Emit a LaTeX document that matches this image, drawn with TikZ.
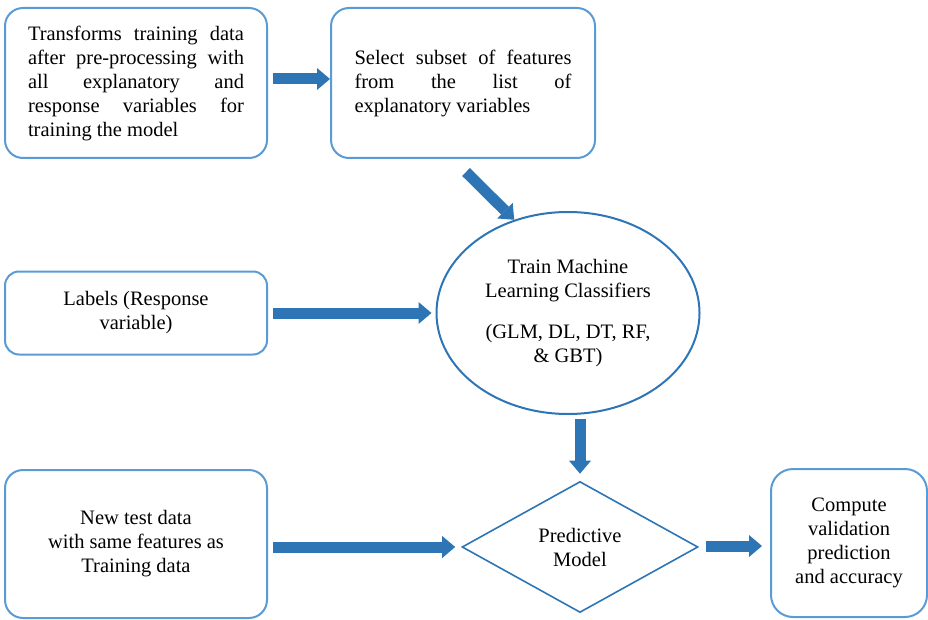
\documentclass[tikz,border=0pt]{standalone}
\usepackage{fontspec}
\setmainfont{Liberation Serif}
\usetikzlibrary{arrows.meta,shapes.geometric}
\definecolor{boxblue}{RGB}{91,155,213}
\definecolor{darkblue}{RGB}{46,117,182}
\setlength{\parindent}{0pt}
\begin{document}
\begin{tikzpicture}[x=1pt,y=-1pt,
  every node/.style={font=\fontsize{20.5}{24}\selectfont},
  stepbox/.style={draw=boxblue, line width=2pt, rounded corners=18pt, inner sep=0pt},
  fat/.style={color=darkblue, line width=11pt,
    -{Triangle[width=22pt,length=13pt,line width=0pt]}}]
\useasboundingbox (0,0) rectangle (928,620);

% input and feature boxes
\node[stepbox, text width=216pt, align=justify, inner xsep=23pt, minimum height=150pt]
  (b1) at (136,83) {Transforms training data\linebreak after pre-processing with\linebreak
  all explanatory and\linebreak response variables for\linebreak training the model};
\node[stepbox, text width=217pt, align=justify, inner xsep=23.5pt, minimum height=150pt]
  (b2) at (463,83) {Select subset of features\linebreak from the list of\linebreak explanatory variables};
\node[stepbox, rounded corners=14pt, minimum width=262pt, minimum height=83pt, align=center]
  (b3) at (136,313) {Labels (Response\\variable)};
\node[stepbox, minimum width=262pt, minimum height=148pt, align=center]
  (b4) at (136,544) {New test data\\with same features as\\Training data};
\node[stepbox, rounded corners=22pt, minimum width=156pt, minimum height=148pt, align=center]
  (b5) at (849,543) {Compute\\validation\\prediction\\and accuracy};

% training and model
\node[draw=darkblue, line width=2pt, ellipse, minimum width=263pt, minimum height=202pt,
  inner sep=0pt, align=center] (tr) at (568,313)
  {Train Machine\\Learning Classifiers\\[17pt](GLM, DL, DT, RF,\\\& GBT)};
\node[draw=darkblue, line width=1.6pt, diamond, minimum width=236pt, minimum height=131pt,
  inner sep=0pt, align=center] (dm) at (580,547) {Predictive\\Model};

% connectors
\coordinate (d0) at (tr.south -| dm.north);
\draw[fat] ([xshift=5pt,yshift=4pt]b1.east) -- ([yshift=4pt]b2.west);
\draw[fat] ([xshift=3pt,yshift=-13pt]b2.south) -- (tr.120);
\draw[fat] ([xshift=5pt]b3.east) -- ([xshift=-4pt]tr.west);
\draw[fat] ([yshift=-4pt]d0) -- ([yshift=7pt]dm.north);
\draw[fat] ([xshift=5pt,yshift=-3pt]b4.east) -- ([xshift=-6pt]dm.west);
\draw[fat] ([xshift=7pt,yshift=1pt]dm.east) -- ([xshift=-8pt,yshift=-3pt]b5.west);
\end{tikzpicture}
\end{document}
